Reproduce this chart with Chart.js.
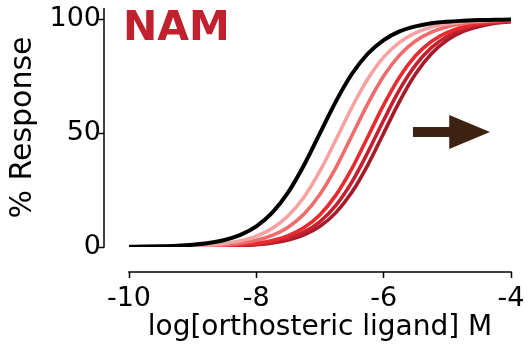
<!DOCTYPE html>
<html>
<head>
<meta charset="utf-8">
<script src="https://cdn.jsdelivr.net/npm/chart.js@4.4.1/dist/chart.umd.min.js"></script>
<style>
  html, body { margin: 0; padding: 0; background: #ffffff; }
  #wrap { width: 529px; height: 353px; position: relative; }
</style>
</head>
<body>
<div id="wrap"><canvas id="c" width="529" height="353"></canvas></div>
<script>
// ---- data ----
const logConc = [-10, -9.75, -9.5, -9.25, -9, -8.75, -8.5, -8.25, -8, -7.75, -7.5, -7.25, -7,
                 -6.75, -6.5, -6.25, -6, -5.75, -5.5, -5.25, -5, -4.75, -4.5, -4.25, -4];
const control  = [0.1, 0.18, 0.32, 0.56, 0.99, 1.75, 3.07, 5.33, 9.09, 15.1, 24.0, 36.0, 50.0,
                  64.0, 76.0, 84.9, 90.9, 94.7, 96.9, 98.3, 99.0, 99.4, 99.7, 99.8, 99.9];
const namDose1 = [0.05, 0.09, 0.16, 0.28, 0.50, 0.88, 1.56, 2.74, 4.77, 8.18, 13.7, 22.0, 33.4,
                  47.1, 61.3, 73.8, 83.4, 89.9, 94.1, 96.6, 98.0, 98.9, 99.4, 99.6, 99.8];
const namDose2 = [0.03, 0.05, 0.10, 0.17, 0.30, 0.53, 0.95, 1.67, 2.93, 5.10, 8.72, 14.5, 23.2,
                  34.9, 48.9, 62.9, 75.1, 84.3, 90.5, 94.4, 96.8, 98.2, 99.0, 99.4, 99.7];
const namDose3 = [0.02, 0.03, 0.05, 0.09, 0.17, 0.29, 0.52, 0.92, 1.63, 2.87, 4.99, 8.53, 14.2,
                  22.8, 34.4, 48.3, 62.4, 74.7, 84.0, 90.3, 94.3, 96.7, 98.1, 98.9, 99.4];
const namDose4 = [0.01, 0.02, 0.04, 0.07, 0.13, 0.22, 0.40, 0.70, 1.24, 2.19, 3.83, 6.61, 11.2,
                  18.3, 28.5, 41.5, 55.7, 69.1, 79.9, 87.6, 92.6, 95.7, 97.6, 98.6, 99.2];
const namDose5 = [0.01, 0.02, 0.03, 0.06, 0.10, 0.18, 0.32, 0.56, 0.99, 1.75, 3.07, 5.33, 9.09,
                  15.1, 24.0, 36.0, 50.0, 64.0, 76.0, 84.9, 90.9, 94.7, 96.9, 98.3, 99.0];
const seriesNames = ['Control', 'NAM 1', 'NAM 2', 'NAM 3', 'NAM 4', 'NAM 5'];
const xTicks = [-10, -8, -6, -4];
const yTicks = [0, 50, 100];
// arrow annotation (data coordinates)
const arrowX = [-5.54, -4.97, -4.97, -4.33, -4.97, -4.97, -5.54];
const arrowY = [52.7, 52.7, 58.0, 50.5, 43.05, 48.3, 48.3];
const panelLabel = 'NAM';
const xTitle = 'log[orthosteric ligand] M';
const yTitle = '% Response';

// ---- styles ----
const seriesValues = [control, namDose1, namDose2, namDose3, namDose4, namDose5];
const seriesColors = ['#000000', '#f6a2a2', '#ef6b6c', '#e92b30', '#c5202f', '#a51b2a'];
const seriesWidths = [4, 3.6, 3.6, 3.6, 3.6, 3.6];

const FONT = '"DejaVu Sans", "Liberation Sans", sans-serif';
Chart.defaults.font.family = FONT;
Chart.defaults.color = '#000000';

const AXIS_GAP = 25;
const AXIS_W = 1.5;

const datasets = seriesValues.map((vals, i) => ({
  label: seriesNames[i],
  data: logConc.map((x, j) => ({ x: x, y: vals[j] })),
  borderColor: seriesColors[i],
  backgroundColor: seriesColors[i],
  borderWidth: seriesWidths[i],
  pointRadius: 0,
  fill: false,
  cubicInterpolationMode: 'monotone'
}));
datasets.push({
  label: 'arrow',
  data: arrowX.map((x, j) => ({ x: x, y: arrowY[j] })),
  borderColor: 'rgba(0,0,0,0)',
  backgroundColor: '#3e2313',
  borderWidth: 1,
  pointRadius: 0,
  tension: 0,
  fill: 'shape'
});

const offsetAxes = {
  id: 'offsetAxes',
  afterDraw(chart) {
    const { ctx } = chart;
    const xs = chart.scales.x, ys = chart.scales.y;
    ctx.save();
    ctx.strokeStyle = '#000';
    ctx.lineWidth = AXIS_W;
    ctx.lineCap = 'butt';
    // y axis line
    const yLineX = chart.chartArea.left - AXIS_GAP;
    ctx.beginPath();
    ctx.moveTo(yLineX, ys.getPixelForValue(ys.max));
    ctx.lineTo(yLineX, ys.getPixelForValue(yTicks[0]) + AXIS_W / 2);
    ctx.stroke();
    // x axis line
    const xLineY = chart.chartArea.bottom + AXIS_GAP;
    ctx.beginPath();
    ctx.moveTo(xs.getPixelForValue(xTicks[0]) - AXIS_W / 2, xLineY);
    ctx.lineTo(xs.getPixelForValue(xTicks[xTicks.length - 1]) + AXIS_W / 2, xLineY);
    ctx.stroke();
    // panel label
    ctx.fillStyle = '#c1202f';
    ctx.font = 'bold 41px ' + FONT;
    ctx.textBaseline = 'alphabetic';
    ctx.textAlign = 'left';
    ctx.fillText(panelLabel, chart.chartArea.left - 6, chart.chartArea.top + 32);
    ctx.restore();
  }
};

new Chart(document.getElementById('c'), {
  type: 'line',
  data: { datasets: datasets },
  plugins: [offsetAxes],
  options: {
    responsive: false,
    animation: false,
    devicePixelRatio: 1,
    layout: { padding: { left: 5, right: 18, top: 8, bottom: 8 } },
    plugins: { legend: { display: false }, tooltip: { enabled: false } },
    scales: {
      x: {
        type: 'linear',
        min: -10,
        max: -4,
        afterBuildTicks: s => { s.ticks = xTicks.map(v => ({ value: v })); },
        afterFit: s => { s.height = 98; s.paddingLeft = 0; s.paddingRight = 0; },
        border: { display: false },
        grid: {
          drawOnChartArea: false, drawTicks: true, tickLength: AXIS_GAP + 6,
          tickColor: '#000', tickWidth: AXIS_W,
          tickBorderDash: [6, AXIS_GAP], tickBorderDashOffset: 6
        },
        ticks: {
          color: '#000', font: { size: 27 }, padding: 5,
          maxRotation: 0, autoSkip: false, callback: v => String(v)
        },
        title: { display: true, text: xTitle, color: '#000', font: { size: 28 }, padding: 0 }
      },
      y: {
        type: 'linear',
        min: 0,
        max: 105,
        afterBuildTicks: s => { s.ticks = yTicks.map(v => ({ value: v })); },
        afterFit: s => { s.width = 124; s.paddingTop = 0; s.paddingBottom = 0; },
        border: { display: false },
        grid: {
          drawOnChartArea: false, drawTicks: true, tickLength: AXIS_GAP + 5,
          tickColor: '#000', tickWidth: AXIS_W,
          tickBorderDash: [5, 60]
        },
        ticks: {
          color: '#000', font: { size: 27 }, padding: -2,
          autoSkip: false, callback: v => String(v)
        },
        title: { display: true, text: yTitle, color: '#000', font: { size: 30 }, padding: 0 }
      }
    }
  }
});
</script>
</body>
</html>
